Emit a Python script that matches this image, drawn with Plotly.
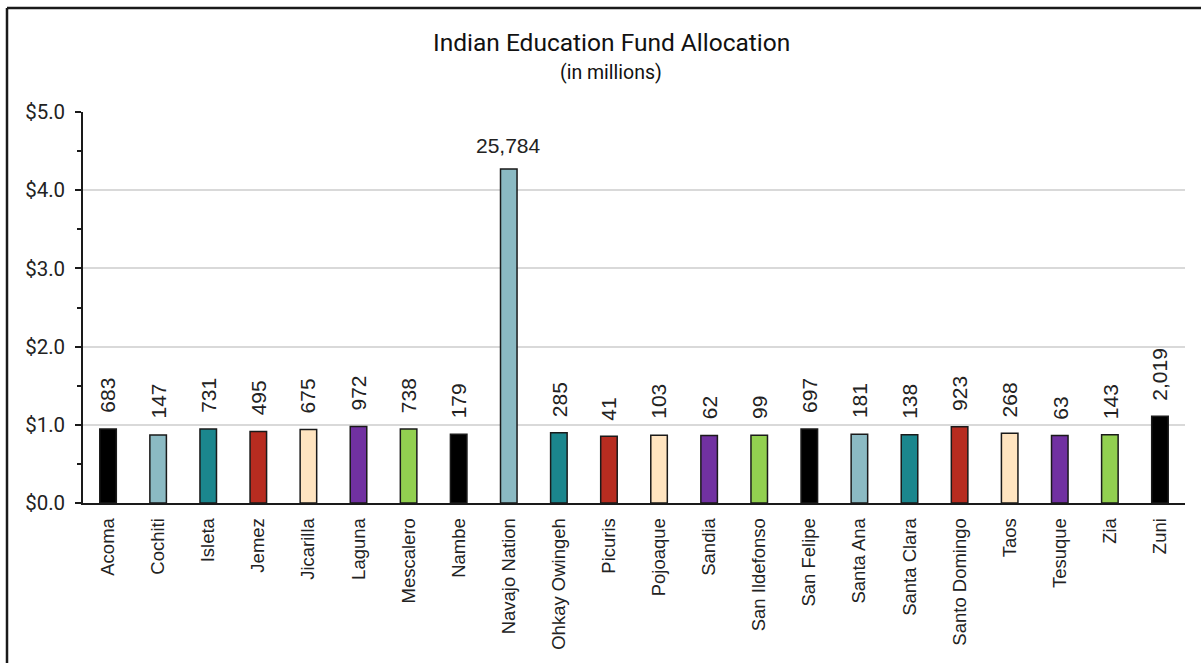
import plotly.graph_objects as go

categories = ["Acoma", "Cochiti", "Isleta", "Jemez", "Jicarilla", "Laguna", "Mescalero",
              "Nambe", "Navajo Nation", "Ohkay Owingeh", "Picuris", "Pojoaque", "Sandia",
              "San Ildefonso", "San Felipe", "Santa Ana", "Santa Clara", "Santo Domingo",
              "Taos", "Tesuque", "Zia", "Zuni"]
allocation_millions = [0.945, 0.871, 0.945, 0.914, 0.940, 0.978, 0.945, 0.880, 4.27,
                       0.897, 0.854, 0.867, 0.862, 0.867, 0.945, 0.880, 0.872, 0.974,
                       0.892, 0.863, 0.872, 1.11]
counts = [683, 147, 731, 495, 675, 972, 738, 179, 25784, 285, 41, 103, 62, 99, 697,
          181, 138, 923, 268, 63, 143, 2019]
palette = ["#000000", "#8BBAC3", "#1B868D", "#B72C20", "#FFE4C0", "#7131A1", "#92D050"]
y_ticks = [0, 1, 2, 3, 4, 5]

W, H = 1201, 663
ML, MR, MT, MB = 83, 16, 112, 160
PW, PH = W - ML - MR, H - MT - MB

def px_x(x):
    return (x - ML) / PW

def px_y(y):
    return (H - MB - y) / PH

colors = [palette[i % len(palette)] for i in range(len(categories))]

fig = go.Figure()
fig.add_trace(go.Bar(
    x=categories, y=allocation_millions,
    marker=dict(color=colors, line=dict(color="#1a1a1a", width=1.5)),
    hoverinfo="x+y",
))

vmax = max(allocation_millions)
for c, v, n in zip(categories, allocation_millions, counts):
    horiz = v == vmax
    fig.add_annotation(
        x=c, y=v, xref="x", yref="y", text=f"{n:,}", showarrow=False,
        textangle=0 if horiz else -90,
        xanchor="center", yanchor="bottom", yshift=10 if horiz else 14,
        font=dict(family="Liberation Sans, Arial", size=21, color="#222222"),
    )

fig.add_annotation(x=px_x(611), y=px_y(43), xref="paper", yref="paper",
                   text="Indian Education Fund Allocation", showarrow=False,
                   xanchor="center", yanchor="middle",
                   font=dict(family="Roboto", size=24.5, color="#111111"))
fig.add_annotation(x=px_x(611), y=px_y(72), xref="paper", yref="paper",
                   text="(in millions)", showarrow=False,
                   xanchor="center", yanchor="middle",
                   font=dict(family="Roboto", size=19.5, color="#111111"))

# outer frame (top and left edges)
fig.add_shape(type="line", xref="paper", yref="paper",
              x0=px_x(7), y0=px_y(8), x1=px_x(W + 5), y1=px_y(8),
              line=dict(color="#1a1a1a", width=2.5))
fig.add_shape(type="line", xref="paper", yref="paper",
              x0=px_x(7), y0=px_y(8), x1=px_x(7), y1=px_y(H + 5),
              line=dict(color="#1a1a1a", width=2.5))

fig.update_layout(
    width=W, height=H,
    margin=dict(l=ML, r=MR, t=MT, b=MB, pad=0),
    paper_bgcolor="white", plot_bgcolor="white",
    bargap=0.67, showlegend=False,
    xaxis=dict(
        tickangle=-90, showline=True, linecolor="#1a1a1a", linewidth=1.5,
        ticks="", showgrid=False, ticklabelstandoff=6,
        tickfont=dict(family="Liberation Sans, Arial", size=18.5, color="#222222"),
    ),
    yaxis=dict(
        range=[0, 5], tickvals=y_ticks, tickformat="$.1f",
        showline=True, linecolor="#1a1a1a", linewidth=1.5,
        ticks="outside", ticklen=6, tickcolor="#1a1a1a", tickwidth=1.5,
        showgrid=True, gridcolor="#D9D9D9", gridwidth=1.5,
        zeroline=False, ticklabelstandoff=6,
        minor=dict(dtick=0.5, ticks="outside", ticklen=4, tickcolor="#1a1a1a",
                   tickwidth=1.5, showgrid=False),
        tickfont=dict(family="Roboto", size=20.5, color="#222222"),
    ),
)

fig.write_html("out.html")
